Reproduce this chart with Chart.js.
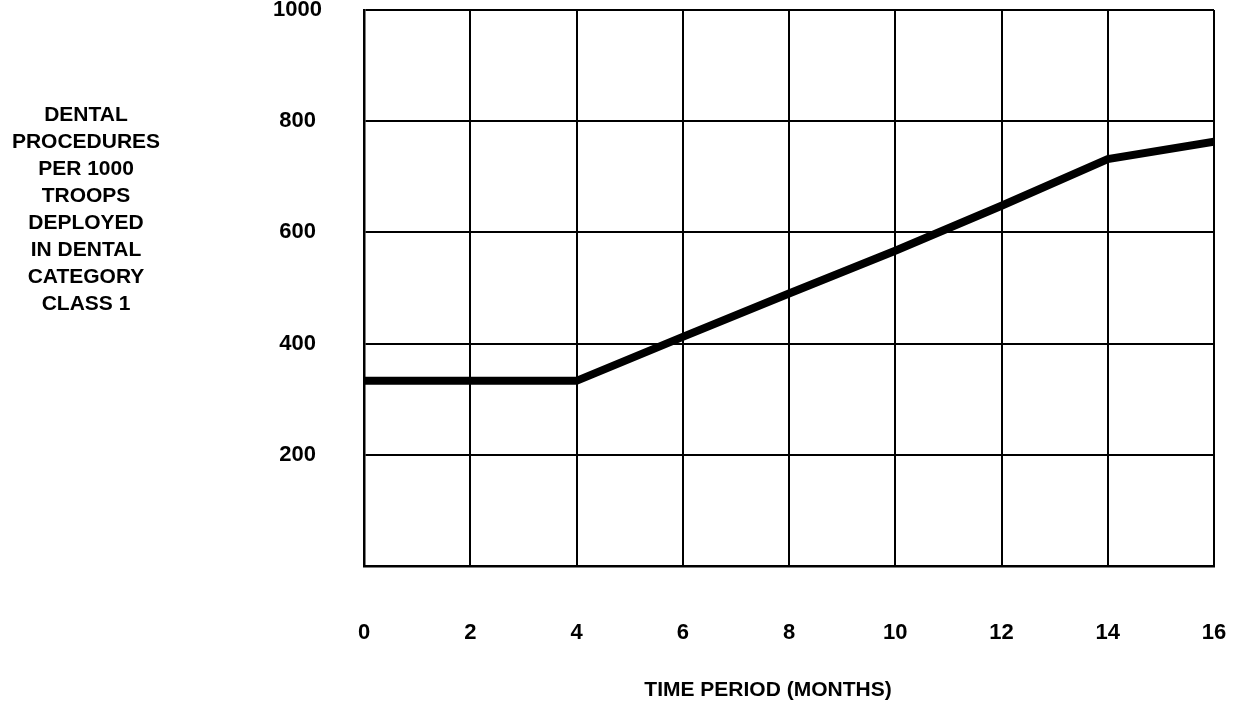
<!DOCTYPE html>
<html>
<head>
<meta charset="utf-8">
<script src="https://cdn.jsdelivr.net/npm/chart.js@4.4.1/dist/chart.umd.min.js"></script>
<style>
  html, body { margin: 0; padding: 0; background: #fff; }
  #wrap { width: 1235px; height: 708px; }
</style>
</head>
<body>
<div id="wrap"><canvas id="procChart" width="1235" height="708"></canvas></div>
<script>
  // months on the x axis and procedures per 1000 troops
  const months = [0, 2, 4, 6, 8, 10, 12, 14, 16];
  const procedures = [333, 333, 333, 412, 490, 567, 648, 732, 763];
  const yTickLabels = [200, 400, 600, 800, 1000];
  const yTitleLines = ['DENTAL', 'PROCEDURES', 'PER 1000', 'TROOPS', 'DEPLOYED', 'IN DENTAL', 'CATEGORY', 'CLASS 1'];
  const xTitle = 'TIME PERIOD (MONTHS)';

  const FONT = '"Liberation Sans", Arial, Helvetica, sans-serif';

  // axis titles are plain horizontal text, so draw them ourselves
  const axisTitles = {
    id: 'axisTitles',
    afterDraw(chart) {
      const c = chart.ctx;
      c.save();
      c.fillStyle = '#000';
      c.font = 'bold 21px ' + FONT;
      c.textAlign = 'center';
      c.textBaseline = 'middle';
      yTitleLines.forEach((t, i) => c.fillText(t, 86, 115 + i * 27));
      c.fillText(xTitle, 768, 690);
      c.restore();
    }
  };

  const ctx = document.getElementById('procChart').getContext('2d');

  const procChart = new Chart(ctx, {
    type: 'line',
    data: {
      datasets: [{
        data: months.map((m, i) => ({ x: m, y: procedures[i] })),
        borderColor: '#000',
        borderWidth: 8,
        pointRadius: 0,
        tension: 0,
        fill: false
      }]
    },
    options: {
      responsive: false,
      animation: false,
      layout: { padding: { left: 232, right: 21, top: 10, bottom: 0 } },
      plugins: {
        legend: { display: false },
        tooltip: { enabled: false }
      },
      scales: {
        x: {
          type: 'linear',
          min: 0,
          max: 16,
          afterFit(scale) { scale.height = 142; },
          // long invisible ticks push the labels down without adding side padding
          grid: { color: '#000', lineWidth: 2, drawTicks: true, tickLength: 54, tickColor: 'rgba(0,0,0,0)' },
          border: { color: '#000', width: 2.5 },
          ticks: {
            stepSize: 2,
            padding: 0,
            color: '#000',
            font: { family: FONT, size: 22, weight: 'bold' }
          }
        },
        y: {
          min: 0,
          max: 1000,
          afterFit(scale) { scale.width = 132; },
          grid: { color: '#000', lineWidth: 2, drawTicks: true, tickLength: 42, tickColor: 'rgba(0,0,0,0)' },
          border: { color: '#000', width: 2.5 },
          ticks: {
            stepSize: 200,
            crossAlign: 'center',
            padding: 0,
            color: '#000',
            font: { family: FONT, size: 22, weight: 'bold', lineHeight: 0.9 },
            callback: (v) => yTickLabels.includes(v) ? String(v) : ''
          }
        }
      }
    },
    plugins: [axisTitles]
  });
</script>
</body>
</html>
